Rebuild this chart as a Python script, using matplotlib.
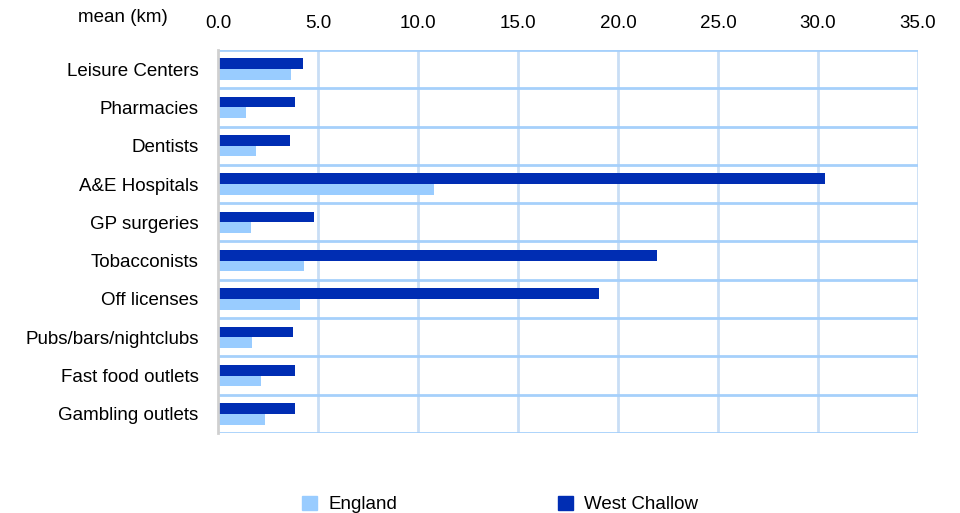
import numpy as np
import matplotlib.pyplot as plt
from matplotlib.patches import Patch

plt.rcParams['font.family'] = ['Liberation Sans', 'DejaVu Sans']

categories = ['Leisure Centers', 'Pharmacies', 'Dentists', 'A&E Hospitals',
              'GP surgeries', 'Tobacconists', 'Off licenses',
              'Pubs/bars/nightclubs', 'Fast food outlets', 'Gambling outlets']
england = [3.63, 1.38, 1.9, 10.8, 1.65, 4.3, 4.1, 1.7, 2.15, 2.35]
west_challow = [4.25, 3.85, 3.6, 30.35, 4.8, 21.95, 19.05, 3.75, 3.85, 3.85]
xticks = [0, 5, 10, 15, 20, 25, 30, 35]

c_eng = '#99ccff'
c_wc = '#002db3'
h_grid = '#a6d0fb'
v_grid = '#c9def5'
fs = 13.5

fig = plt.figure(figsize=(9.6, 5.13), dpi=100)
ax = fig.add_axes([0.2271, 0.156, 0.72915, 0.7465])

y = np.arange(len(categories))
bh = 0.28
ax.barh(y - bh / 2, west_challow, height=bh, color=c_wc, zorder=3)
ax.barh(y + bh / 2, england, height=bh, color=c_eng, zorder=3)

ax.set_xlim(0, 35)
ax.set_ylim(len(categories) - 0.5, -0.5)
ax.set_yticks(y)
ax.set_yticklabels(categories, fontsize=fs)
ax.set_xticks(xticks)
ax.set_xticklabels(['%.1f' % v for v in xticks], fontsize=fs)
ax.xaxis.tick_top()
ax.tick_params(axis='both', length=0)
ax.tick_params(axis='x', pad=13)
ax.tick_params(axis='y', pad=14)

# grid
for xv in xticks[1:]:
    ax.axvline(xv, color=v_grid, lw=2, zorder=1)
for yv in np.arange(len(categories) + 1) - 0.5:
    ax.axhline(yv, color=h_grid, lw=2, zorder=1)
for s in ['top', 'bottom', 'right']:
    ax.spines[s].set_visible(False)
ax.spines['left'].set_color('#d0d0d0')
ax.spines['left'].set_linewidth(2)
ax.spines['left'].set_zorder(4)

fig.text(0.081, 0.966, 'mean (km)', fontsize=fs, va='center', ha='left')

handles = [Patch(color=c_eng, label='England'), Patch(color=c_wc, label='West Challow')]
fig.legend(handles=handles, loc='center', bbox_to_anchor=(0.521, 0.016), ncol=2,
           frameon=False, fontsize=fs, handlelength=0.8, handleheight=0.75,
           handletextpad=0.6, columnspacing=8.6)

fig.savefig('out.png', dpi=100)
